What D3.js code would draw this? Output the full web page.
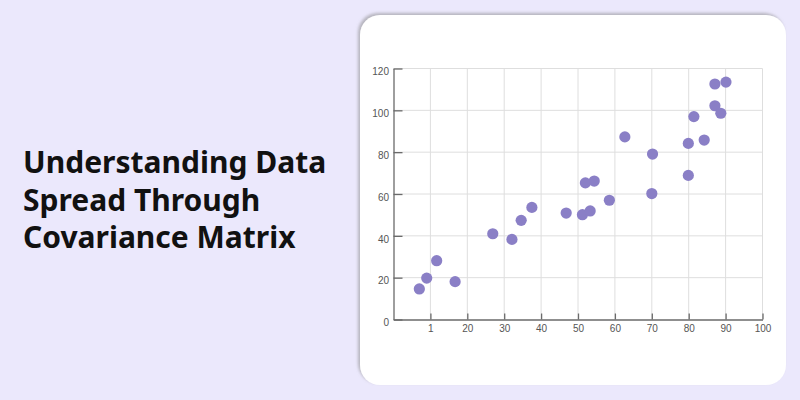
<!DOCTYPE html>
<html><head><meta charset="utf-8">
<script src="https://cdn.jsdelivr.net/npm/d3@7"></script>
<style>body{margin:0;background:#ebe8fc;}svg{display:block;}</style>
</head><body>
<svg id="c" width="800" height="400"></svg>
<script>
const titleLines = ["Understanding Data", "Spread Through", "Covariance Matrix"];
const xValues = [7.0, 9.0, 11.7, 16.7, 26.9, 32.1, 34.6, 37.5, 46.8, 51.2, 53.3, 52.0, 54.4, 58.5, 62.7, 70.0, 70.2, 79.9, 79.9, 84.2, 81.4, 87.1, 88.7, 87.1, 90.1];
const yValues = [14.6, 19.8, 28.1, 18.1, 41.0, 38.3, 47.4, 53.6, 50.9, 50.1, 51.9, 65.3, 66.2, 57.0, 87.3, 60.2, 79.1, 68.9, 84.2, 85.8, 97.0, 102.2, 98.6, 112.6, 113.5];
const xTicks = [10, 20, 30, 40, 50, 60, 70, 80, 90, 100];
const xTickLabels = ["1", "20", "30", "40", "50", "60", "70", "80", "90", "100"];
const yTicks = [0, 20, 40, 60, 80, 100, 120];

const svg = d3.select("#c");
const defs = svg.append("defs");
const f = defs.append("filter").attr("id","sh").attr("x","-10%").attr("y","-10%").attr("width","120%").attr("height","120%");
f.append("feDropShadow").attr("dx",-2).attr("dy",-2).attr("stdDeviation",1.5).attr("flood-color","#888").attr("flood-opacity",0.55);

svg.append("rect").attr("width",800).attr("height",400).attr("fill","#ebe8fc");
svg.append("rect").attr("x",360).attr("y",15).attr("width",426).attr("height",370).attr("rx",20)
  .attr("fill","#fff").attr("filter","url(#sh)");

// title
const t = svg.append("text").attr("font-family","'Noto Sans', sans-serif").attr("font-weight",700)
  .attr("font-size",30).attr("fill","#111");
titleLines.forEach((l,i)=>{
  t.append("tspan").attr("x",23).attr("y",173+i*37.6).text(l);
});

const x = d3.scaleLinear().domain([0,100]).range([393.5,762.5]);
const y = d3.scaleLinear().domain([0,120]).range([319.5,68.5]);

const g = svg.append("g");
// grid
g.selectAll(".vg").data(xTicks).join("line").attr("x1",d=>x(d)).attr("x2",d=>x(d))
  .attr("y1",y(120)).attr("y2",y(0)).attr("stroke","#dedede").attr("stroke-width",1);
g.selectAll(".hg").data(yTicks.slice(1)).join("line").attr("x1",x(0)).attr("x2",x(100))
  .attr("y1",d=>y(d)).attr("y2",d=>y(d)).attr("stroke","#dedede").attr("stroke-width",1);

// axes
const xa = g.append("g").attr("transform",`translate(0,${y(0)})`)
  .call(d3.axisBottom(x).tickValues(xTicks).tickFormat((d,i)=>xTickLabels[i]).tickSizeInner(-6).tickSizeOuter(0).tickPadding(5));
const ya = g.append("g").attr("transform",`translate(${x(0)},0)`)
  .call(d3.axisLeft(y).tickValues(yTicks).tickSizeInner(-9).tickSizeOuter(0).tickPadding(4.5));
[xa,ya].forEach(a=>{
  a.select(".domain").attr("stroke","#6a6a6a").attr("stroke-width",1.3);
  a.selectAll(".tick line").attr("stroke","#6a6a6a").attr("stroke-width",1.3);
  a.selectAll("text").attr("fill","#555").attr("font-size",10).attr("font-family","'Liberation Sans', Arial, sans-serif");
});
ya.selectAll("text").attr("dy","0.62em");

g.selectAll("circle").data(xValues).join("circle")
  .attr("cx",d=>x(d)).attr("cy",(d,i)=>y(yValues[i])).attr("r",5.6).attr("fill","#8a7fc6");
</script>
</body></html>
